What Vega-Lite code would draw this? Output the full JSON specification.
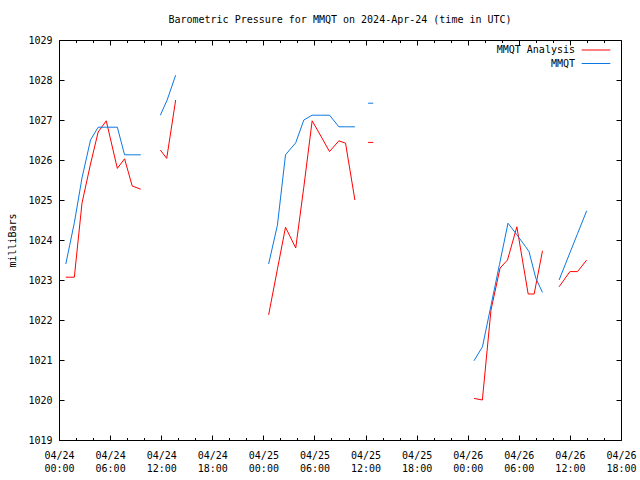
{
  "$schema": "https://vega.github.io/schema/vega-lite/v6.json",
  "width": 562,
  "height": 400,
  "autosize": {"type": "none"},
  "padding": {"left": 59, "top": 40, "right": 19, "bottom": 40},
  "background": "white",
  "title": {
    "text": "Barometric Pressure for MMQT on 2024-Apr-24 (time in UTC)",
    "font": "DejaVu Sans Mono", "fontSize": 10, "fontWeight": "normal",
    "color": "black", "anchor": "middle", "offset": 10
  },
  "data": {"values": [
    {"h": 0.8, "s": "MMQT Analysis", "g": 1, "v": 1023.07},
    {"h": 1.8, "s": "MMQT Analysis", "g": 1, "v": 1023.07},
    {"h": 2.7, "s": "MMQT Analysis", "g": 1, "v": 1024.92},
    {"h": 3.7, "s": "MMQT Analysis", "g": 1, "v": 1025.9},
    {"h": 4.6, "s": "MMQT Analysis", "g": 1, "v": 1026.7},
    {"h": 5.55, "s": "MMQT Analysis", "g": 1, "v": 1026.98},
    {"h": 6.85, "s": "MMQT Analysis", "g": 1, "v": 1025.79},
    {"h": 7.7, "s": "MMQT Analysis", "g": 1, "v": 1026.03},
    {"h": 8.6, "s": "MMQT Analysis", "g": 1, "v": 1025.35},
    {"h": 9.6, "s": "MMQT Analysis", "g": 1, "v": 1025.27},
    {"h": 11.9, "s": "MMQT Analysis", "g": 2, "v": 1026.25},
    {"h": 12.65, "s": "MMQT Analysis", "g": 2, "v": 1026.04},
    {"h": 13.7, "s": "MMQT Analysis", "g": 2, "v": 1027.5},
    {"h": 24.62, "s": "MMQT Analysis", "g": 3, "v": 1022.13},
    {"h": 25.65, "s": "MMQT Analysis", "g": 3, "v": 1023.27},
    {"h": 26.6, "s": "MMQT Analysis", "g": 3, "v": 1024.32},
    {"h": 27.8, "s": "MMQT Analysis", "g": 3, "v": 1023.8},
    {"h": 28.75, "s": "MMQT Analysis", "g": 3, "v": 1025.32},
    {"h": 29.73, "s": "MMQT Analysis", "g": 3, "v": 1026.98},
    {"h": 30.75, "s": "MMQT Analysis", "g": 3, "v": 1026.6},
    {"h": 31.77, "s": "MMQT Analysis", "g": 3, "v": 1026.21},
    {"h": 32.87, "s": "MMQT Analysis", "g": 3, "v": 1026.48},
    {"h": 33.65, "s": "MMQT Analysis", "g": 3, "v": 1026.42},
    {"h": 34.75, "s": "MMQT Analysis", "g": 3, "v": 1025.0},
    {"h": 36.3, "s": "MMQT Analysis", "g": 4, "v": 1026.44},
    {"h": 36.9, "s": "MMQT Analysis", "g": 4, "v": 1026.44},
    {"h": 48.73, "s": "MMQT Analysis", "g": 5, "v": 1020.04},
    {"h": 49.72, "s": "MMQT Analysis", "g": 5, "v": 1020.0},
    {"h": 50.73, "s": "MMQT Analysis", "g": 5, "v": 1022.25},
    {"h": 51.8, "s": "MMQT Analysis", "g": 5, "v": 1023.3},
    {"h": 52.67, "s": "MMQT Analysis", "g": 5, "v": 1023.5},
    {"h": 53.77, "s": "MMQT Analysis", "g": 5, "v": 1024.33},
    {"h": 55.1, "s": "MMQT Analysis", "g": 5, "v": 1022.65},
    {"h": 55.8, "s": "MMQT Analysis", "g": 5, "v": 1022.65},
    {"h": 56.78, "s": "MMQT Analysis", "g": 5, "v": 1023.73},
    {"h": 58.73, "s": "MMQT Analysis", "g": 6, "v": 1022.83},
    {"h": 60.0, "s": "MMQT Analysis", "g": 6, "v": 1023.21},
    {"h": 60.9, "s": "MMQT Analysis", "g": 6, "v": 1023.21},
    {"h": 61.97, "s": "MMQT Analysis", "g": 6, "v": 1023.5},
    {"h": 0.8, "s": "MMQT", "g": 7, "v": 1023.4},
    {"h": 1.8, "s": "MMQT", "g": 7, "v": 1024.43},
    {"h": 2.7, "s": "MMQT", "g": 7, "v": 1025.55},
    {"h": 3.7, "s": "MMQT", "g": 7, "v": 1026.5},
    {"h": 4.6, "s": "MMQT", "g": 7, "v": 1026.82},
    {"h": 5.55, "s": "MMQT", "g": 7, "v": 1026.82},
    {"h": 6.85, "s": "MMQT", "g": 7, "v": 1026.82},
    {"h": 7.7, "s": "MMQT", "g": 7, "v": 1026.13},
    {"h": 8.6, "s": "MMQT", "g": 7, "v": 1026.13},
    {"h": 9.6, "s": "MMQT", "g": 7, "v": 1026.13},
    {"h": 11.9, "s": "MMQT", "g": 8, "v": 1027.12},
    {"h": 12.7, "s": "MMQT", "g": 8, "v": 1027.5},
    {"h": 13.7, "s": "MMQT", "g": 8, "v": 1028.12},
    {"h": 24.62, "s": "MMQT", "g": 9, "v": 1023.4},
    {"h": 25.65, "s": "MMQT", "g": 9, "v": 1024.37},
    {"h": 26.6, "s": "MMQT", "g": 9, "v": 1026.13},
    {"h": 27.8, "s": "MMQT", "g": 9, "v": 1026.43},
    {"h": 28.75, "s": "MMQT", "g": 9, "v": 1027.0},
    {"h": 29.73, "s": "MMQT", "g": 9, "v": 1027.12},
    {"h": 30.75, "s": "MMQT", "g": 9, "v": 1027.12},
    {"h": 31.77, "s": "MMQT", "g": 9, "v": 1027.12},
    {"h": 32.87, "s": "MMQT", "g": 9, "v": 1026.83},
    {"h": 33.65, "s": "MMQT", "g": 9, "v": 1026.83},
    {"h": 34.75, "s": "MMQT", "g": 9, "v": 1026.83},
    {"h": 36.3, "s": "MMQT", "g": 10, "v": 1027.42},
    {"h": 36.9, "s": "MMQT", "g": 10, "v": 1027.42},
    {"h": 48.73, "s": "MMQT", "g": 11, "v": 1020.98},
    {"h": 49.73, "s": "MMQT", "g": 11, "v": 1021.33},
    {"h": 50.73, "s": "MMQT", "g": 11, "v": 1022.36},
    {"h": 51.73, "s": "MMQT", "g": 11, "v": 1023.39},
    {"h": 52.73, "s": "MMQT", "g": 11, "v": 1024.42},
    {"h": 53.77, "s": "MMQT", "g": 11, "v": 1024.13},
    {"h": 54.77, "s": "MMQT", "g": 11, "v": 1023.84},
    {"h": 55.2, "s": "MMQT", "g": 11, "v": 1023.71},
    {"h": 56.0, "s": "MMQT", "g": 11, "v": 1023.04},
    {"h": 56.78, "s": "MMQT", "g": 11, "v": 1022.69},
    {"h": 58.73, "s": "MMQT", "g": 12, "v": 1023.0},
    {"h": 60.0, "s": "MMQT", "g": 12, "v": 1023.68},
    {"h": 60.9, "s": "MMQT", "g": 12, "v": 1024.16},
    {"h": 61.97, "s": "MMQT", "g": 12, "v": 1024.73}
  ]},
  "layer": [
    {
      "mark": {"type": "line", "strokeWidth": 1},
      "encoding": {
        "x": {
          "field": "h", "type": "quantitative",
          "scale": {"domain": [0, 66], "nice": false, "zero": false},
          "axis": {
            "orient": "bottom", "title": null, "domain": false, "grid": false,
            "values": [0, 6, 12, 18, 24, 30, 36, 42, 48, 54, 60, 66],
            "tickSize": -5, "tickColor": "black", "tickWidth": 1,
            "labelExpr": "['04/' + (24 + floor(datum.value / 24)), (datum.value % 24 < 10 ? '0' : '') + (datum.value % 24) + ':00']",
            "labelPadding": 15, "labelOverlap": false, "labelFlush": false,
            "labelFont": "DejaVu Sans Mono", "labelFontSize": 10, "labelColor": "black",
            "labelLineHeight": 13.5
          }
        },
        "y": {
          "field": "v", "type": "quantitative",
          "scale": {"domain": [1019, 1029], "nice": false, "zero": false},
          "axis": {
            "orient": "left", "title": "milliBars", "domain": false, "grid": false,
            "values": [1019, 1020, 1021, 1022, 1023, 1024, 1025, 1026, 1027, 1028, 1029],
            "format": "d",
            "tickSize": -5, "tickColor": "black", "labelPadding": 12,
            "labelFont": "DejaVu Sans Mono", "labelFontSize": 10, "labelColor": "black",
            "titleFont": "DejaVu Sans Mono", "titleFontSize": 10, "titleFontWeight": "normal",
            "titleColor": "black", "titlePadding": 10
          }
        },
        "color": {
          "field": "s", "type": "nominal",
          "scale": {"domain": ["MMQT Analysis", "MMQT"], "range": ["#ff0000", "#0b78e3"]},
          "legend": {
            "orient": "none", "legendX": 530, "legendY": 3, "title": null,
            "symbolType": "M-2.2,0H2.2", "symbolSize": 169, "symbolStrokeWidth": 1,
            "symbolFillColor": "transparent",
            "labelAlign": "right", "labelOffset": -28,
            "labelFont": "DejaVu Sans Mono", "labelFontSize": 10, "labelColor": "black",
            "rowPadding": 1.5, "padding": 0
          }
        },
        "detail": {"field": "g", "type": "nominal"}
      }
    },
    {
      "mark": {"type": "point", "opacity": 0},
      "encoding": {
        "x": {
          "field": "h", "type": "quantitative",
          "axis": {
            "orient": "bottom", "title": null, "domain": false, "grid": false, "labels": false,
            "values": [2, 4, 8, 10, 14, 16, 20, 22, 26, 28, 32, 34, 38, 40, 44, 46, 50, 52, 56, 58, 62, 64],
            "tickSize": -2.5, "tickColor": "black", "tickWidth": 1
          }
        },
        "y": {
          "field": "v", "type": "quantitative",
          "axis": {
            "orient": "right", "title": null, "domain": false, "grid": false, "labels": false,
            "values": [1019, 1020, 1021, 1022, 1023, 1024, 1025, 1026, 1027, 1028, 1029],
            "tickSize": -5, "tickColor": "black"
          }
        }
      }
    },
    {
      "mark": {"type": "point", "opacity": 0},
      "encoding": {
        "x": {
          "field": "h", "type": "quantitative",
          "axis": {
            "orient": "top", "title": null, "domain": false, "grid": false, "labels": false,
            "values": [0, 6, 12, 18, 24, 30, 36, 42, 48, 54, 60, 66],
            "tickSize": -5, "tickColor": "black", "tickWidth": 1
          }
        }
      }
    },
    {
      "mark": {"type": "point", "opacity": 0},
      "encoding": {
        "x": {
          "field": "h", "type": "quantitative",
          "axis": {
            "orient": "top", "title": null, "domain": false, "grid": false, "labels": false,
            "values": [2, 4, 8, 10, 14, 16, 20, 22, 26, 28, 32, 34, 38, 40, 44, 46, 50, 52, 56, 58, 62, 64],
            "tickSize": -2.5, "tickColor": "black", "tickWidth": 1
          }
        }
      }
    }
  ],
  "resolve": {"axis": {"x": "independent", "y": "independent"}},
  "config": {
    "view": {"stroke": "black", "strokeWidth": 1},
    "font": "DejaVu Sans Mono"
  }
}
